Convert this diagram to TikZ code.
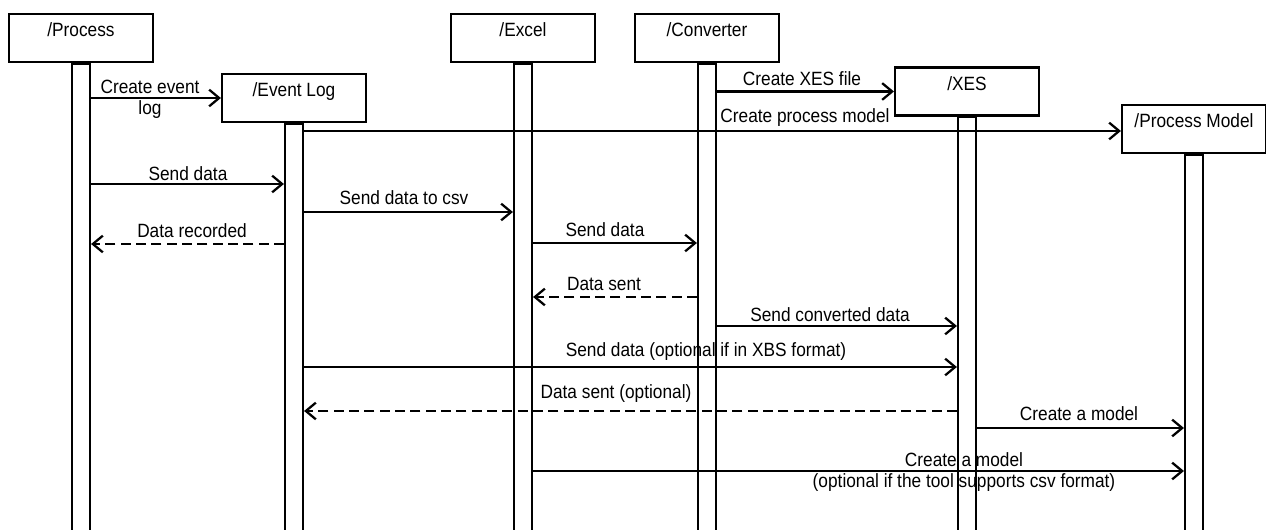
\documentclass[tikz,border=0pt]{standalone}
\usepackage{fontspec}
\setmainfont{Liberation Sans}[FakeStretch=0.9]
\usetikzlibrary{arrows.meta}

\begin{document}
\begin{tikzpicture}[x=0.75pt,y=-0.75pt,
  txt/.style={font=\fontsize{14.4pt}{15.5pt}\selectfont},
  actor/.style={txt, draw, line width=1.6pt, fill=white,
    minimum width=108pt, minimum height=36pt, inner sep=0pt,
    text height=10pt, text depth=11.5pt},
  life/.style={draw, line width=1.2pt, minimum width=13.9pt,
    minimum height=420pt, inner sep=0pt, anchor=north},
  msg/.style={line width=1.7pt,
    -{Straight Barb[length=7.5pt,width=12.5pt,line width=1.7pt]}},
  reply/.style={msg, dash pattern=on 7.5pt off 4pt},
  lbl/.style={txt, inner sep=0pt, anchor=base},
  lbl2/.style={txt, inner sep=0pt, anchor=center, align=center}]

\useasboundingbox (0,0) rectangle (1266,530);

% participants
\node[actor] (p) at (81,38)     {/Process};
\node[actor] (e) at (294,98)    {/Event Log};
\node[actor] (x) at (523,38)    {/Excel};
\node[actor] (c) at (707,38)    {/Converter};
\node[actor] (s) at (967,91.5)  {/XES};
\node[actor] (m) at (1194,129)  {/Process Model};

% lifelines
\node[life] (pL) at (p.south) {};
\node[life] (eL) at (e.south) {};
\node[life] (xL) at (x.south) {};
\node[life] (cL) at (c.south) {};
\node[life] (sL) at (s.south) {};
\node[life] (mL) at (m.south) {};

% messages
\draw[msg] (pL.east |- e.west) -- (e.west);
\node[lbl2] (t1) at (150,99.5) {Create event\\log};

\draw[msg] (cL.east |- s.west) -- (s.west);
\node[lbl] (t2) at (802,86) {Create XES file};

\draw[msg] (eL.east |- 0,131) -- (m.west |- 0,131);
\node[lbl] (t3) at (805,123) {Create process model};

\draw[msg] (pL.east |- 0,184) -- (eL.west |- 0,184);
\node[lbl] (t4) at (188,181) {Send data};

\draw[msg] (eL.east |- 0,212) -- (xL.west |- 0,212);
\node[lbl] (t5) at (404,205) {Send data to csv};

\draw[reply] (eL.west |- 0,244) -- (pL.east |- 0,244);
\node[lbl] (t6) at (192,238) {Data recorded};

\draw[msg] (xL.east |- 0,243) -- (cL.west |- 0,243);
\node[lbl] (t7) at (605,237) {Send data};

\draw[reply] (cL.west |- 0,297) -- (xL.east |- 0,297);
\node[lbl] (t8) at (604,291) {Data sent};

\draw[msg] (cL.east |- 0,326) -- (sL.west |- 0,326);
\node[lbl] (t9) at (830,322) {Send converted data};

\draw[msg] (eL.east |- 0,367) -- (sL.west |- 0,367);
\node[lbl] (t10) at (706,357) {Send data (optional if in XBS format)};

\draw[reply] (sL.west |- 0,411) -- (eL.east |- 0,411);
\node[lbl] (t11) at (616,399) {Data sent (optional)};

\draw[msg] (sL.east |- 0,428) -- (mL.west |- 0,428);
\node[lbl] (t12) at (1079,421) {Create a model};

\draw[msg] (xL.east |- 0,471) -- (mL.west |- 0,471);
\node[lbl2] (t13) at (964,472) {Create a model\\(optional if the tool supports csv format)};

\end{tikzpicture}
\end{document}
